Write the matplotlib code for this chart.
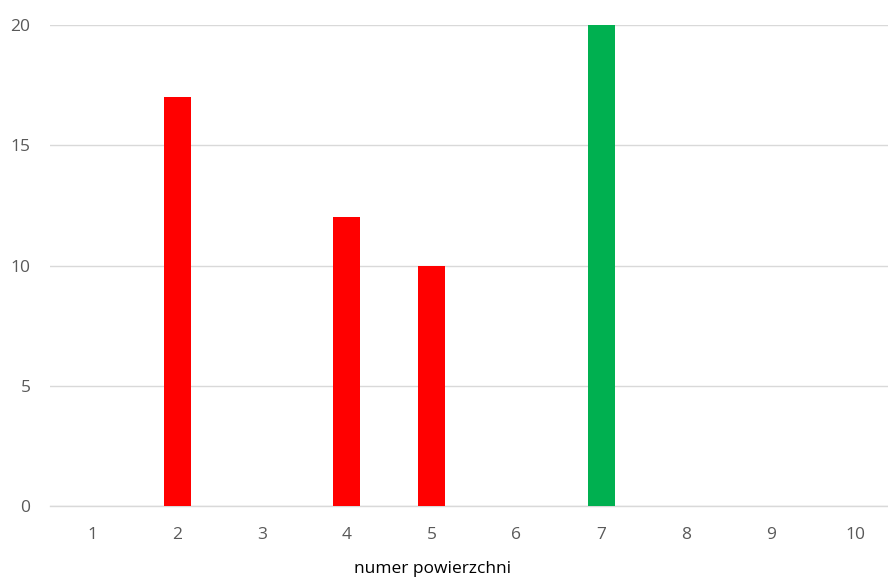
import matplotlib.pyplot as plt

# dane: numer powierzchni i wartości
surfaces = [1, 2, 3, 4, 5, 6, 7, 8, 9, 10]
values = [0, 17, 0, 12, 10, 0, 20, 0, 0, 0]
bar_colors = ["#FF0000", "#FF0000", "#FF0000", "#FF0000", "#FF0000",
              "#FF0000", "#00B050", "#FF0000", "#FF0000", "#FF0000"]
y_ticks = [0, 5, 10, 15, 20]

plt.rcParams["font.family"] = ["Open Sans", "DejaVu Sans"]

fig = plt.figure(figsize=(8.88, 5.79), dpi=100)
W, H = 888, 579
ax = fig.add_axes([50 / W, (H - 506) / H, 838 / W, 481 / H])

ax.bar(surfaces, values, width=27 / 84.8, color=bar_colors, zorder=3)

ax.set_xlim(0.5, 0.5 + 838 / 84.8)
ax.set_ylim(0, 20)
ax.set_yticks(y_ticks)
ax.set_xticks(surfaces)
ax.grid(axis="y", color="#d9d9d9", linewidth=1.0, zorder=0)
ax.set_axisbelow(True)
# linia bazowa przy zerze
ax.axhline(0, color="#d9d9d9", linewidth=1.0, zorder=2, clip_on=False)

for s in ax.spines.values():
    s.set_visible(False)
ax.tick_params(axis="both", length=0, labelsize=12.5, labelcolor="#595959")
ax.tick_params(axis="y", pad=14)
ax.tick_params(axis="x", pad=15)

ax.set_xlabel("numer powierzchni", fontsize=12.5, color="#000000", labelpad=14)
ax.xaxis.set_label_coords((433 - 50) / 838, -0.115)

fig.savefig("out.png", dpi=100)
